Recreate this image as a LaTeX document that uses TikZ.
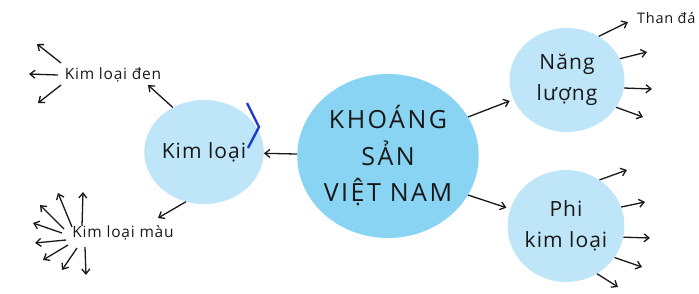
\documentclass[tikz,border=0pt]{standalone}
\usepackage{fontspec}
\setmainfont{Open Sans}[LetterSpace=5]
\newfontfamily\hubfont{Open Sans}[LetterSpace=10]
\usetikzlibrary{arrows.meta,shapes.geometric}
\definecolor{bigblue}{RGB}{137,212,242}
\definecolor{smallblue}{RGB}{190,230,248}
\definecolor{ink}{RGB}{24,24,24}
\definecolor{accent}{RGB}{30,60,200}
\begin{document}
\begin{tikzpicture}[x=1pt,y=-1pt,
  bubble/.style={ellipse, fill=smallblue, inner sep=0pt, align=center, text=ink, font=\fontsize{21}{31}\selectfont},
  hub/.style={ellipse, fill=bigblue, minimum width=172pt, minimum height=164pt, inner sep=0pt, align=center, text=ink, font=\hubfont\fontsize{25}{36.5}\selectfont},
  arr/.style={draw=ink, line width=1.3pt, -{Straight Barb[length=5pt,width=8pt]}},
  lbl/.style={inner sep=0pt, text=ink, font=\fontsize{15.5}{18}\selectfont},
]
\useasboundingbox (0,0) rectangle (699,293);

% main bubbles
\node[hub] (ks) at (388,156) {KHOÁNG\\SẢN\\VIỆT NAM};
\node[bubble, minimum width=114pt, minimum height=104pt] (kl) at (204,152) {Kim loại};
\node[bubble, minimum width=115pt, minimum height=104pt] (nl) at (567,80) {Năng\\lượng};
\node[bubble, minimum width=114pt, minimum height=112pt] (pk) at (566,226) {Phi\\kim loại};

% labels
\node[lbl, anchor=base] (kld) at (113,79) {Kim loại đen};
\node[lbl, anchor=base] (klm) at (123,237) {Kim loại màu};
\node[lbl, anchor=base west, font=\fontsize{14.5}{17}\selectfont] (td) at (637,23) {Than đá};

% accent mark
\draw[accent, line width=2.4pt] (247,103) -- (259,127) -- (248,148);

% hub connectors
\draw[arr] (ks) -- (kl);
\draw[arr, shorten >=4pt] (ks.26) -- (nl.200);
\draw[arr, shorten >=4pt] (ks.334) -- (pk.163);

% kim loai connectors
\coordinate (kldh) at (148,85);
\coordinate (klmh) at (158,218);
\draw[arr] (kl.125) -- (kldh);
\draw[arr] (kl.250) -- (klmh);

% fan around Kim loai den
\foreach \i/\tx/\ty/\hx/\hy in {1/61/63/37/44, 2/58/75/29/74, 3/61/85/38/103}{
  \coordinate (dt\i) at (\tx,\ty);
  \coordinate (dh\i) at (\hx,\hy);
  \draw[arr] (dt\i) -- (dh\i);
}
% fan around Kim loai mau
\foreach \i/\tx/\ty/\hx/\hy in {1/82/226/83/192, 2/72/227/58/193, 3/64/229/40/205, 4/62/233/33/223, 5/66/240/35/243, 6/68/245/43/260, 7/77/248/62/270, 8/85/247/86/275}{
  \coordinate (mt\i) at (\tx,\ty);
  \coordinate (mh\i) at (\hx,\hy);
  \draw[arr] (mt\i) -- (mh\i);
}

% Nang luong outgoing
\foreach \i/\a/\hx/\hy in {1/54/628/22, 2/22/647/52, 3/-8/652/89, 4/-29/643/117}{
  \coordinate (nh\i) at (\hx,\hy);
  \draw[arr] (nl.\a) -- (nh\i);
}
% Phi kim loai outgoing
\foreach \i/\a/\hx/\hy in {1/54/627/170, 2/19/645/202, 3/-11/650/238, 4/-33/642/267, 5/-57/618/287}{
  \coordinate (ph\i) at (\hx,\hy);
  \draw[arr] (pk.\a) -- (ph\i);
}
\end{tikzpicture}
\end{document}
